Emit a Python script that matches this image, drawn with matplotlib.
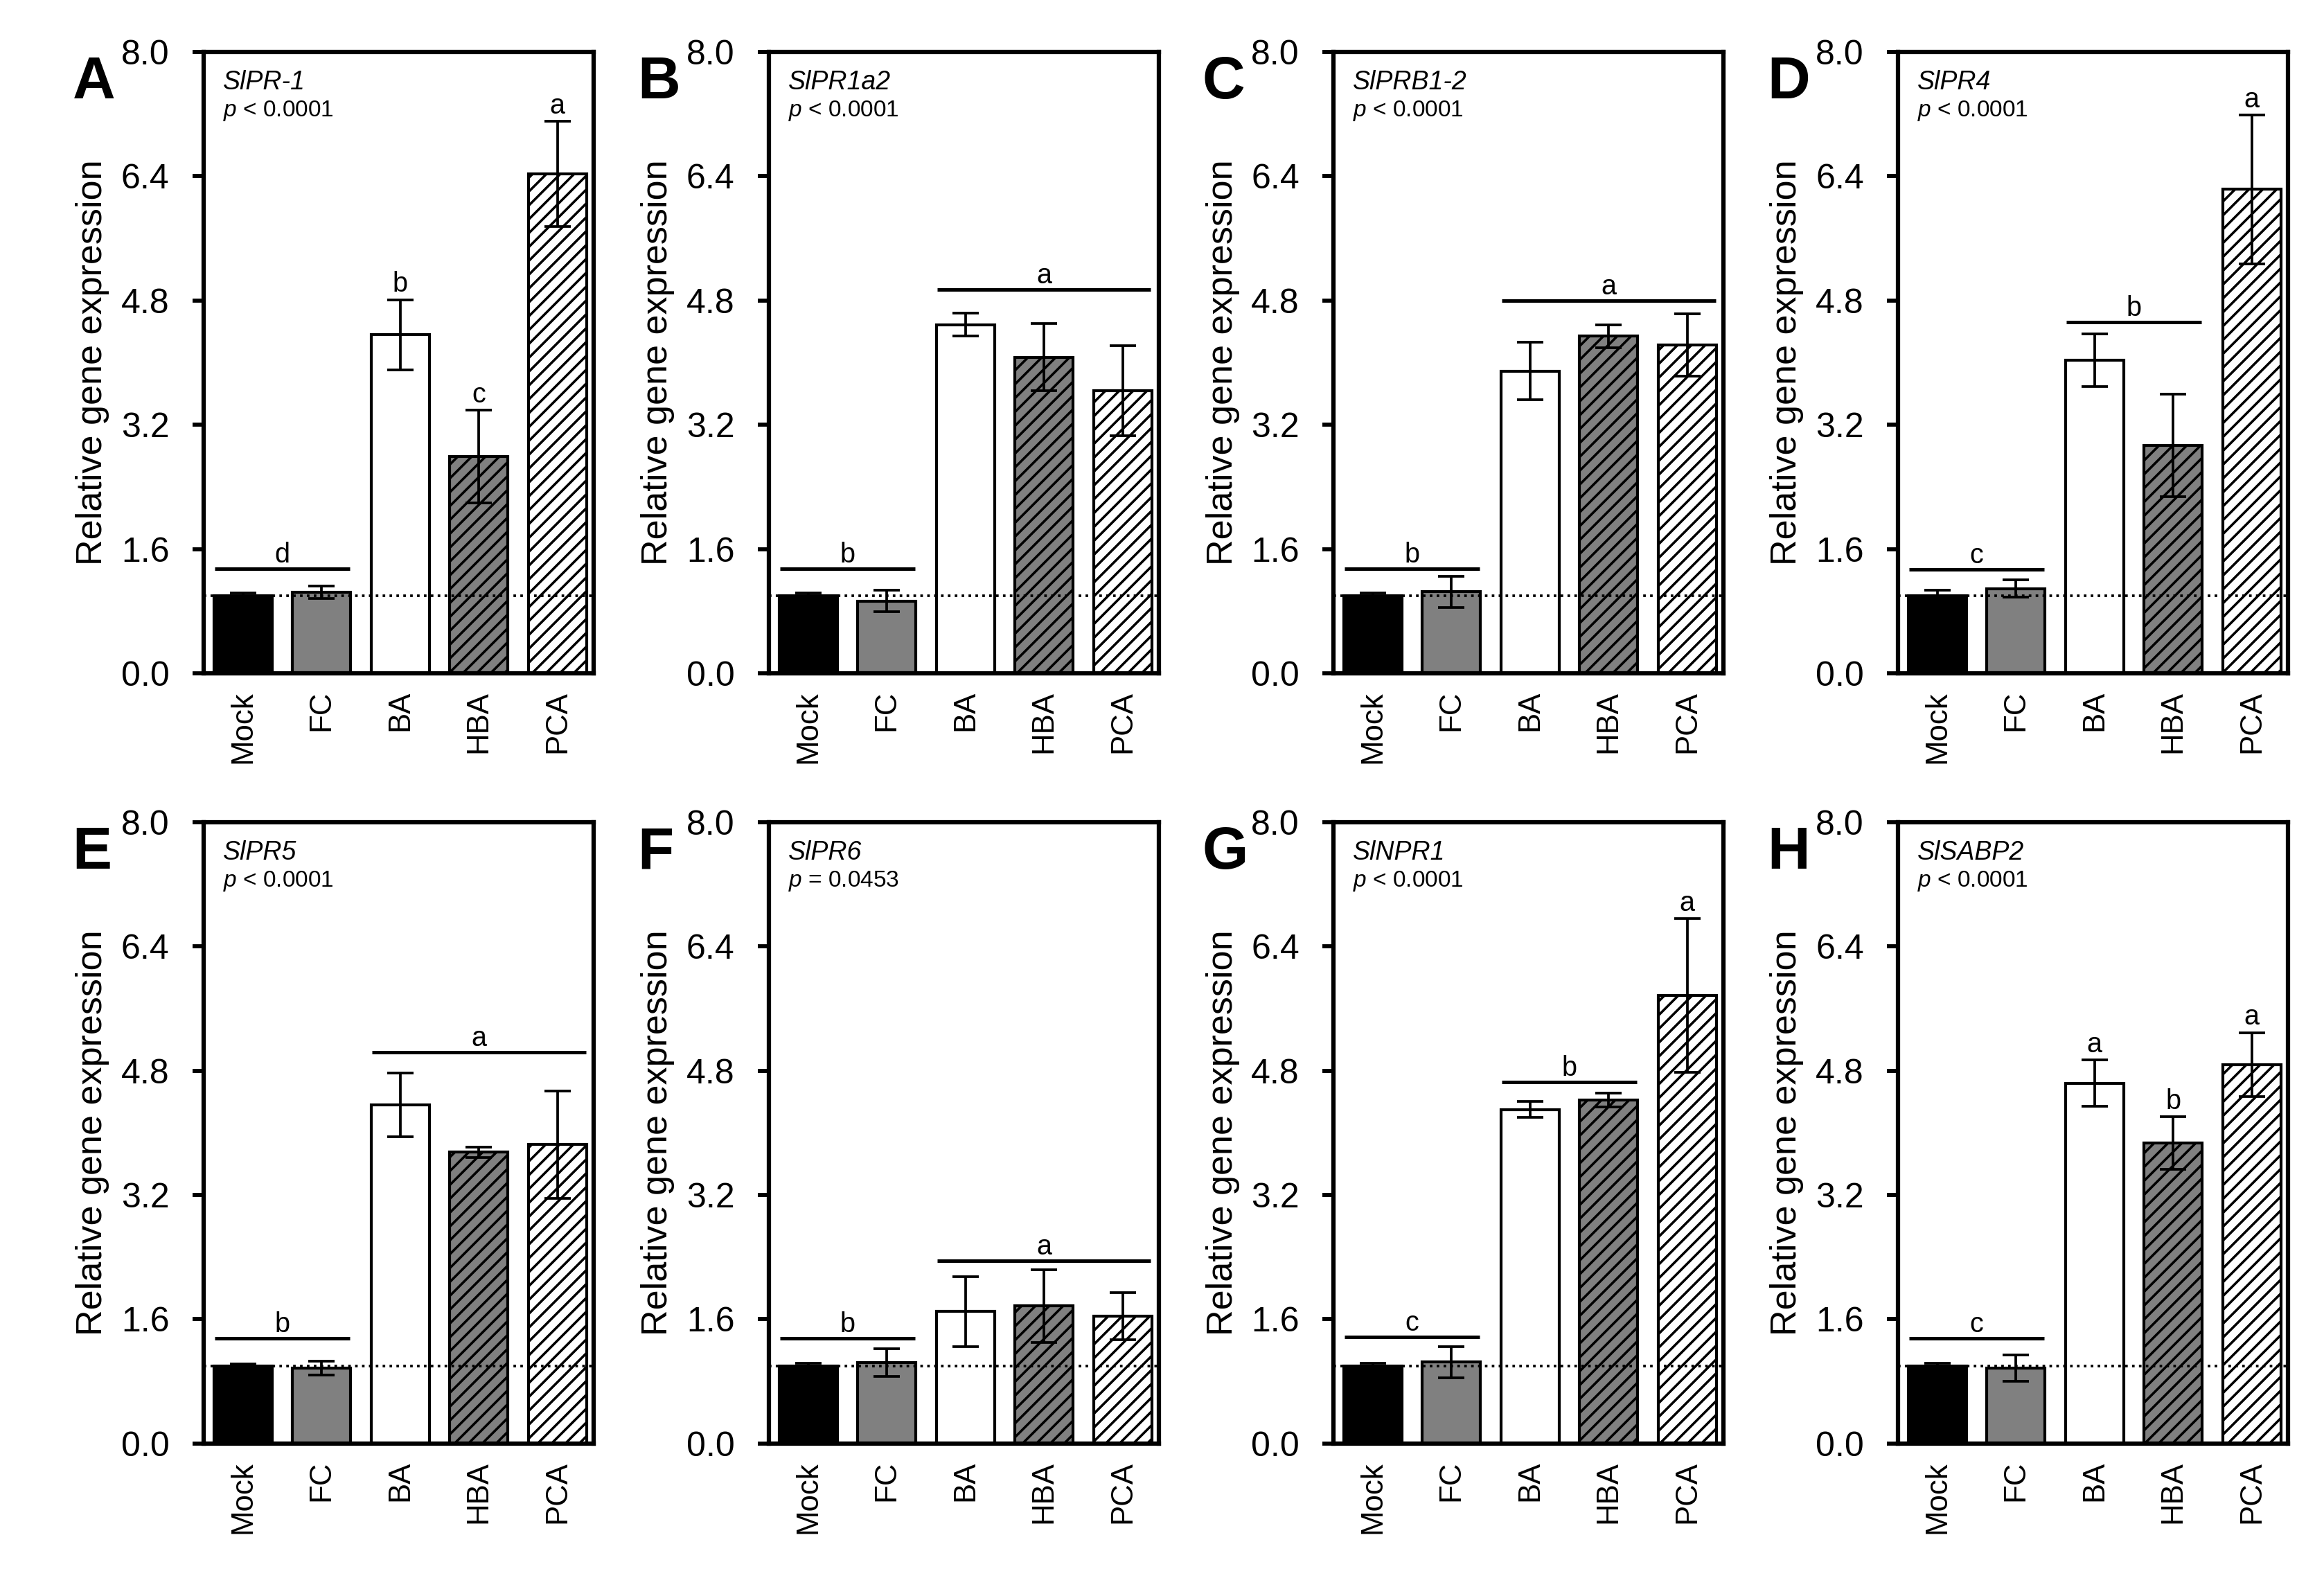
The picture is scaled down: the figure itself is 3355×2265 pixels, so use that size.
import numpy as np
import matplotlib.pyplot as plt

plt.rcParams['font.family'] = ['Liberation Sans', 'DejaVu Sans']
plt.rcParams['mathtext.fontset'] = 'custom'
plt.rcParams['mathtext.rm'] = 'Liberation Sans'
plt.rcParams['mathtext.it'] = 'Liberation Sans:italic'
plt.rcParams['hatch.linewidth'] = 0.85

# treatments and bar styling
treatments = ["Mock", "FC", "BA", "HBA", "PCA"]
bar_faces = ["black", "#808080", "white", "#808080", "white"]
bar_hatches = [None, None, None, "/////", "/////"]

panel_letters = ["A", "B", "C", "D", "E", "F", "G", "H"]
genes = ["SlPR-1", "SlPR1a2", "SlPRB1-2", "SlPR4", "SlPR5", "SlPR6", "SlNPR1", "SlSABP2"]
p_values = ["< 0.0001", "< 0.0001", "< 0.0001", "< 0.0001",
            "< 0.0001", "= 0.0453", "< 0.0001", "< 0.0001"]

# mean relative expression and error for each gene (Mock, FC, BA, HBA, PCA)
pr1_mean = [1.00, 1.04, 4.36, 2.79, 6.43]
pr1_err = [0.03, 0.08, 0.45, 0.60, 0.68]
pr1a2_mean = [1.00, 0.93, 4.49, 4.07, 3.64]
pr1a2_err = [0.03, 0.14, 0.15, 0.43, 0.58]
prb12_mean = [1.00, 1.05, 3.89, 4.34, 4.23]
prb12_err = [0.03, 0.20, 0.37, 0.15, 0.40]
pr4_mean = [1.00, 1.09, 4.03, 2.93, 6.23]
pr4_err = [0.07, 0.11, 0.34, 0.66, 0.96]
pr5_mean = [1.00, 0.97, 4.36, 3.75, 3.85]
pr5_err = [0.02, 0.09, 0.41, 0.07, 0.69]
pr6_mean = [1.00, 1.04, 1.70, 1.77, 1.64]
pr6_err = [0.03, 0.18, 0.45, 0.47, 0.30]
npr1_mean = [1.00, 1.05, 4.30, 4.42, 5.77]
npr1_err = [0.03, 0.20, 0.10, 0.09, 0.99]
sabp2_mean = [1.00, 0.97, 4.64, 3.87, 4.88]
sabp2_err = [0.03, 0.17, 0.30, 0.34, 0.41]

all_means = [pr1_mean, pr1a2_mean, prb12_mean, pr4_mean,
             pr5_mean, pr6_mean, npr1_mean, sabp2_mean]
all_errs = [pr1_err, pr1a2_err, prb12_err, pr4_err,
            pr5_err, pr6_err, npr1_err, sabp2_err]

# grouping lines: (first bar, last bar, letter, height)
group_lines = [
    [(0, 1, "d", 1.35)],
    [(0, 1, "b", 1.35), (2, 4, "a", 4.94)],
    [(0, 1, "b", 1.35), (2, 4, "a", 4.80)],
    [(0, 1, "c", 1.34), (2, 3, "b", 4.52)],
    [(0, 1, "b", 1.35), (2, 4, "a", 5.04)],
    [(0, 1, "b", 1.35), (2, 4, "a", 2.35)],
    [(0, 1, "c", 1.37), (2, 3, "b", 4.65)],
    [(0, 1, "c", 1.35)],
]
# letters on single bars: (bar, letter)
bar_letters = [
    [(2, "b"), (3, "c"), (4, "a")],
    [],
    [],
    [(4, "a")],
    [],
    [],
    [(4, "a")],
    [(2, "a"), (3, "b"), (4, "a")],
]

fig = plt.figure(figsize=(3355 / 300, 2265 / 300), dpi=300)
lefts = [0.0876, 0.3308, 0.5738, 0.8167]
bottoms = [0.5709, 0.0800]
w, h = 0.1678, 0.396

x = np.arange(len(treatments))
for i in range(8):
    ax = fig.add_axes([lefts[i % 4], bottoms[i // 4], w, h])
    means = all_means[i]
    errs = all_errs[i]

    bars = ax.bar(x, means, width=0.74, color=bar_faces, edgecolor="black",
                  linewidth=1.0, zorder=2)
    for b, ht in zip(bars, bar_hatches):
        if ht:
            b.set_hatch(ht)
    ax.errorbar(x, means, yerr=errs, fmt="none", ecolor="black",
                elinewidth=0.9, capsize=4.5, capthick=0.9, zorder=3)
    ax.axhline(1.0, color="black", ls=":", lw=0.9, zorder=4)

    for start, end, letter, yv in group_lines[i]:
        ax.plot([start - 0.36, end + 0.36], [yv, yv], color="black", lw=1.2,
                solid_capstyle="butt", zorder=3)
        ax.text((start + end) / 2, yv + 0.08, letter, ha="center",
                va="baseline", fontsize=9.5)
    for idx, letter in bar_letters[i]:
        ax.text(idx, means[idx] + errs[idx] + 0.1, letter, ha="center",
                va="baseline", fontsize=9.5)

    ax.set_xlim(-0.5, 4.46)
    ax.set_ylim(0, 8.0)
    ticks = np.arange(0, 8.01, 1.6)
    ax.set_yticks(ticks)
    ax.set_yticklabels([f"{t:.1f}" for t in ticks], fontsize=12)
    ax.set_xticks(x)
    ax.set_xticklabels(treatments, rotation=90, fontsize=10.5)
    ax.tick_params(axis="x", length=0, pad=6)
    ax.tick_params(axis="y", direction="out", length=3.8, width=1.4, pad=8)
    for sp in ax.spines.values():
        sp.set_linewidth(1.5)
    ax.set_ylabel("Relative gene expression", fontsize=12.5, labelpad=4)

    ax.text(-0.336, 0.925, panel_letters[i], transform=ax.transAxes,
            fontsize=20.5, fontweight="bold", va="baseline", ha="left")
    ax.text(0.05, 0.940, genes[i], transform=ax.transAxes, fontsize=9,
            fontstyle="italic", va="baseline")
    ax.text(0.05, 0.896, r"$p$ " + p_values[i], transform=ax.transAxes,
            fontsize=8, va="baseline")

fig.savefig("out.png", dpi=300)
